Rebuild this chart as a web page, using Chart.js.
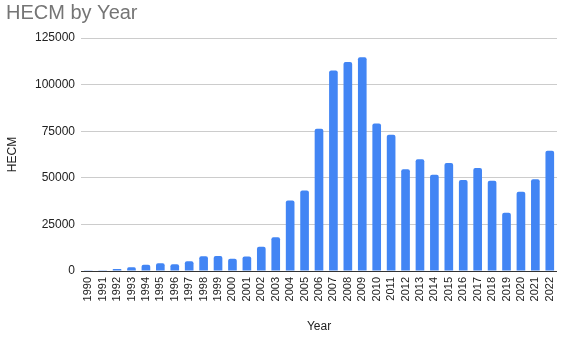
<!DOCTYPE html>
<html>
<head>
<meta charset="utf-8">
<style>
  html, body { margin: 0; padding: 0; background: #fff; }
  #wrap { width: 569px; height: 337px; position: relative; }
</style>
<script src="https://cdn.jsdelivr.net/npm/chart.js@4/dist/chart.umd.min.js"></script>
</head>
<body>
<div id="wrap"><canvas id="chart" width="569" height="337"></canvas></div>
<script>
// Years on the x axis
const years = [
  '1990','1991','1992','1993','1994','1995','1996','1997','1998','1999',
  '2000','2001','2002','2003','2004','2005','2006','2007','2008','2009',
  '2010','2011','2012','2013','2014','2015','2016','2017','2018','2019',
  '2020','2021','2022'
];

// HECM endorsements per year
const hecmCounts = [
  157, 389, 1019, 1964, 3365, 4166, 3596, 5208, 7896, 7982,
  6637, 7781, 13049, 18097, 37829, 43131, 76351, 107558, 112154, 114692,
  79106, 73131, 54591, 59918, 51617, 57990, 48868, 55291, 48359, 31274,
  42527, 49207, 64489
];

// Value axis ticks
const yTicks = [0, 25000, 50000, 75000, 100000, 125000];

const FONT = '"Liberation Sans", Arial, sans-serif';

new Chart(document.getElementById('chart'), {
  type: 'bar',
  data: {
    labels: years,
    datasets: [{
      label: 'HECM',
      data: hecmCounts,
      backgroundColor: '#4285f4',
      borderRadius: { topLeft: 2, topRight: 2, bottomLeft: 0, bottomRight: 0 },
      borderSkipped: 'start',
      categoryPercentage: 1.0,
      barPercentage: 0.6
    }]
  },
  options: {
    responsive: false,
    animation: false,
    devicePixelRatio: 1,
    layout: { padding: { left: 6, right: 1, top: 0, bottom: 0 } },
    plugins: {
      legend: { display: false },
      tooltip: { enabled: false },
      title: {
        display: true,
        text: 'HECM by Year',
        align: 'start',
        color: '#757575',
        font: { family: FONT, size: 20, weight: 'normal' },
        padding: { top: 1, bottom: 13 }
      }
    },
    scales: {
      x: {
        type: 'category',
        offset: true,
        grid: { display: false, drawTicks: false },
        border: { display: false },
        ticks: {
          autoSkip: false,
          minRotation: 90,
          maxRotation: 90,
          padding: 6,
          color: '#222',
          font: { family: FONT, size: 11 }
        },
        title: {
          display: true,
          text: 'Year',
          color: '#222',
          font: { family: FONT, size: 12 },
          padding: { top: 0, bottom: 3 }
        },
        afterFit: (scale) => { scale.height = 66; }
      },
      y: {
        min: yTicks[0],
        max: yTicks[yTicks.length - 1],
        afterBuildTicks: (scale) => { scale.ticks = yTicks.map(v => ({ value: v })); },
        grid: {
          drawTicks: false,
          color: (ctx) => (ctx.tick && ctx.tick.value === 0 ? '#333' : '#ccc'),
          lineWidth: 1
        },
        border: { display: false },
        ticks: {
          padding: 6,
          color: '#222',
          font: { family: FONT, size: 12 },
          callback: (v) => String(v)
        },
        title: {
          display: true,
          text: 'HECM',
          color: '#222',
          font: { family: FONT, size: 12 },
          padding: { top: -1, bottom: 0 }
        },
        afterFit: (scale) => { scale.width = 75; }
      }
    }
  }
});
</script>
</body>
</html>
